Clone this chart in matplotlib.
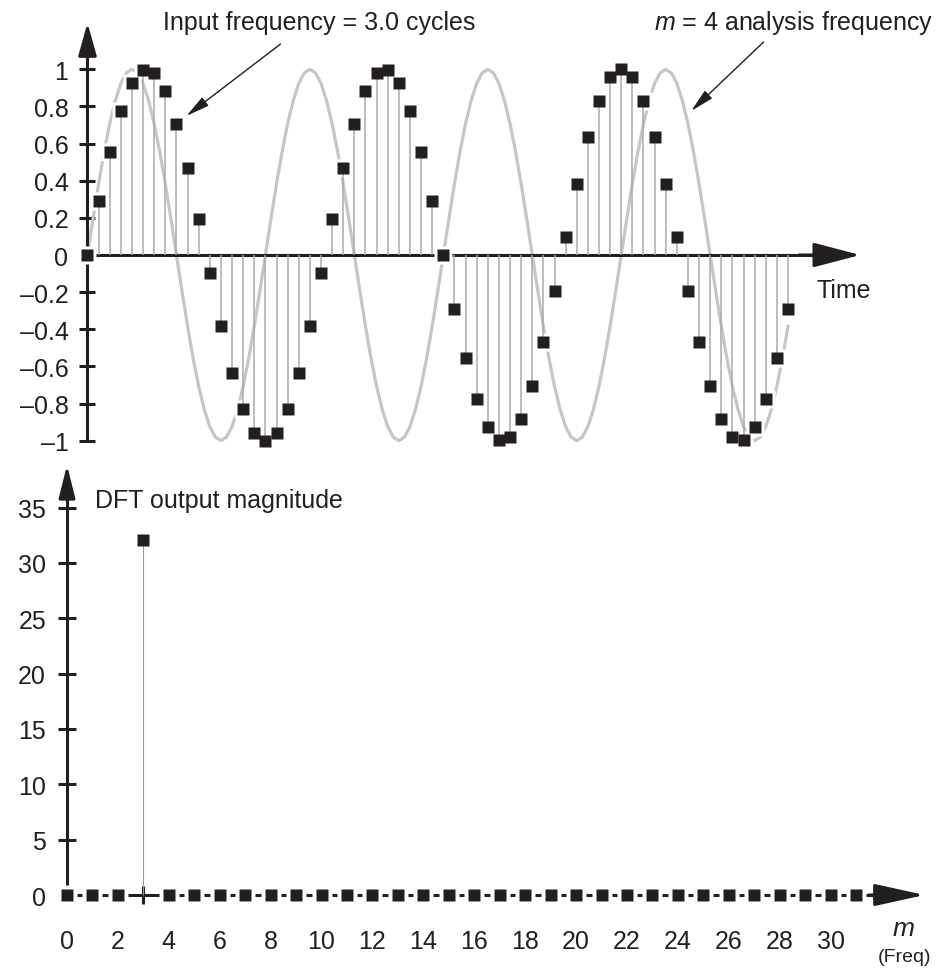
import numpy as np
import matplotlib.pyplot as plt

plt.rcParams['font.family'] = ['Liberation Sans', 'DejaVu Sans']
plt.rcParams['mathtext.fontset'] = 'custom'
plt.rcParams['mathtext.it'] = 'Liberation Sans:italic'
plt.rcParams['mathtext.rm'] = 'Liberation Sans'

ink = '#231f20'

# input sequence, 64 samples (3 cycles)
samples = [0, 0.29, 0.556, 0.773, 0.924, 0.995, 0.981, 0.882, 0.707, 0.471, 0.195, -0.098, -0.383, -0.634, -0.831, -0.957,
           -1.0, -0.957, -0.831, -0.634, -0.383, -0.098, 0.195, 0.471, 0.707, 0.882, 0.981, 0.995, 0.924, 0.773, 0.556, 0.29,
           0, -0.29, -0.556, -0.773, -0.924, -0.995, -0.981, -0.882, -0.707, -0.471, -0.195, 0.098, 0.383, 0.634, 0.831, 0.957,
           1.0, 0.957, 0.831, 0.634, 0.383, 0.098, -0.195, -0.471, -0.707, -0.882, -0.981, -0.995, -0.924, -0.773, -0.556, -0.29]

# m = 4 analysis sinusoid, read every half sample
analysis = [0, 0.195, 0.383, 0.556, 0.707, 0.831, 0.924, 0.981, 1, 0.981, 0.924, 0.831, 0.707, 0.556, 0.383, 0.195,
            0, -0.195, -0.383, -0.556, -0.707, -0.831, -0.924, -0.981, -1, -0.981, -0.924, -0.831, -0.707, -0.556, -0.383, -0.195,
            0, 0.195, 0.383, 0.556, 0.707, 0.831, 0.924, 0.981, 1, 0.981, 0.924, 0.831, 0.707, 0.556, 0.383, 0.195,
            0, -0.195, -0.383, -0.556, -0.707, -0.831, -0.924, -0.981, -1, -0.981, -0.924, -0.831, -0.707, -0.556, -0.383, -0.195,
            0, 0.195, 0.383, 0.556, 0.707, 0.831, 0.924, 0.981, 1, 0.981, 0.924, 0.831, 0.707, 0.556, 0.383, 0.195,
            0, -0.195, -0.383, -0.556, -0.707, -0.831, -0.924, -0.981, -1, -0.981, -0.924, -0.831, -0.707, -0.556, -0.383, -0.195,
            0, 0.195, 0.383, 0.556, 0.707, 0.831, 0.924, 0.981, 1, 0.981, 0.924, 0.831, 0.707, 0.556, 0.383, 0.195,
            0, -0.195, -0.383, -0.556, -0.707, -0.831, -0.924, -0.981, -1, -0.981, -0.924, -0.831, -0.707, -0.556, -0.383]

# DFT output magnitude, m = 0..31
dft_mag = [0, 0, 0, 32.1, 0, 0, 0, 0, 0, 0, 0, 0, 0, 0, 0, 0,
           0, 0, 0, 0, 0, 0, 0, 0, 0, 0, 0, 0, 0, 0, 0, 0]

top_ticks = [-1, -0.8, -0.6, -0.4, -0.2, 0, 0.2, 0.4, 0.6, 0.8, 1]
top_labels = ['\u20131', '\u20130.8', '\u20130.6', '\u20130.4', '\u20130.2', '0', '0.2', '0.4', '0.6', '0.8', '1']
mag_ticks = [0, 5, 10, 15, 20, 25, 30, 35]
freq_ticks = [0, 2, 4, 6, 8, 10, 12, 14, 16, 18, 20, 22, 24, 26, 28, 30]


def px_box(l, t, r, b):
    return [l / 940, 1 - b / 970, (r - l) / 940, (b - t) / 970]


def axis_arrow(ax, start, tip, hl, hw):
    ax.annotate('', xy=tip, xytext=start, annotation_clip=False,
                arrowprops=dict(arrowstyle=f'-|>,head_length={hl},head_width={hw}',
                                mutation_scale=20, lw=2.2, color=ink,
                                shrinkA=0, shrinkB=0))


fig = plt.figure(figsize=(9.4, 9.7), dpi=100)

# ---------------- time domain ----------------
ax1 = fig.add_axes(px_box(40, 20, 900, 460))
ax1.set_xlim(-4.27, 73.07)
ax1.set_ylim(-1.0985, 1.2709)
ax1.patch.set_visible(False)
for s in ['top', 'right']:
    ax1.spines[s].set_visible(False)
for s in ['left', 'bottom']:
    ax1.spines[s].set_position(('data', 0))
    ax1.spines[s].set_linewidth(2.2)
    ax1.spines[s].set_color(ink)
ax1.spines['left'].set_bounds(-1, 1.1)
ax1.spines['bottom'].set_bounds(0, 66)
ax1.set_xticks([])
ax1.set_yticks(top_ticks, top_labels)
ax1.tick_params(axis='y', direction='inout', length=11.5, width=2.2, color=ink,
                labelsize=18, labelcolor=ink, pad=8)

n = np.arange(len(samples))
t = np.arange(len(analysis)) * 0.5
ax1.plot(t, analysis, color='#c3c7c7', lw=2.3, zorder=2)
ax1.plot(n, samples, 's', ms=12.5, color='white', mec='none', zorder=3, clip_on=False)
ax1.vlines(n, 0, samples, color='#a9abab', lw=1.1, zorder=4)
ax1.plot(n, samples, 's', ms=8, color=ink, mec='none', zorder=5, clip_on=False)

axis_arrow(ax1, (0, 1.05), (0, 1.25), 1.0, 0.28)
axis_arrow(ax1, (64, 0), (69.5, 0), 1.45, 0.38)

ax1.text(20.8, 1.217, 'Input frequency = 3.0 cycles', ha='center', va='baseline',
         fontsize=18, color=ink)
ax1.text(76.1, 1.217, '$m$ = 4 analysis frequency', ha='right', va='baseline',
         fontsize=18, color=ink)
ax1.text(65.6, -0.226, 'Time', ha='left', va='baseline', fontsize=18, color=ink)
for start, tip in [((17.36, 1.136), (8.9, 0.749)), ((60.8, 1.147), (54.3, 0.776))]:
    ax1.annotate('', xy=tip, xytext=start, annotation_clip=False,
                 arrowprops=dict(arrowstyle='-|>,head_length=0.8,head_width=0.18',
                                 mutation_scale=18, lw=1.0, color=ink,
                                 shrinkA=0, shrinkB=0))

# ---------------- frequency domain ----------------
ax2 = fig.add_axes(px_box(20, 450, 935, 930))
ax2.set_xlim(-1.847, 34.1)
ax2.set_ylim(-3.07, 40.29)
ax2.patch.set_visible(False)
for s in ['top', 'right']:
    ax2.spines[s].set_visible(False)
for s in ['left', 'bottom']:
    ax2.spines[s].set_position(('data', 0))
    ax2.spines[s].set_linewidth(2.2)
    ax2.spines[s].set_color(ink)
ax2.spines['left'].set_bounds(0, 38)
ax2.spines['bottom'].set_bounds(0, 32)
ax2.set_yticks(mag_ticks)
ax2.set_xticks(freq_ticks)
ax2.set_xticks(np.arange(1, 32, 2), minor=True)
ax2.tick_params(axis='y', direction='inout', length=13, width=2.2, color=ink,
                labelsize=18, labelcolor=ink, pad=8.6)
ax2.tick_params(axis='x', which='both', direction='inout', length=13, width=2.2,
                color=ink, labelsize=18, labelcolor=ink, pad=18)

m = np.arange(len(dft_mag))
ax2.plot(m, dft_mag, 's', ms=14.8, color='white', mec='none', zorder=3, clip_on=False)
ax2.vlines(m, 0, dft_mag, color='#9a9a9a', lw=0.8, zorder=4)
ax2.plot(m, dft_mag, 's', ms=8, color=ink, mec='none', zorder=5, clip_on=False)

axis_arrow(ax2, (0, 36), (0, 38.84), 1.0, 0.25)
axis_arrow(ax2, (31.5, 0), (33.7, 0), 1.55, 0.34)

ax2.text(1.1, 35.05, 'DFT output magnitude', ha='left', va='baseline', fontsize=18, color=ink)
ax2.text(32.85, -3.65, '$m$', ha='center', va='baseline', fontsize=19, color=ink)
ax2.text(32.9, -6.0, '(Freq)', ha='center', va='baseline', fontsize=14, color=ink)

fig.savefig('out.png', dpi=100)
